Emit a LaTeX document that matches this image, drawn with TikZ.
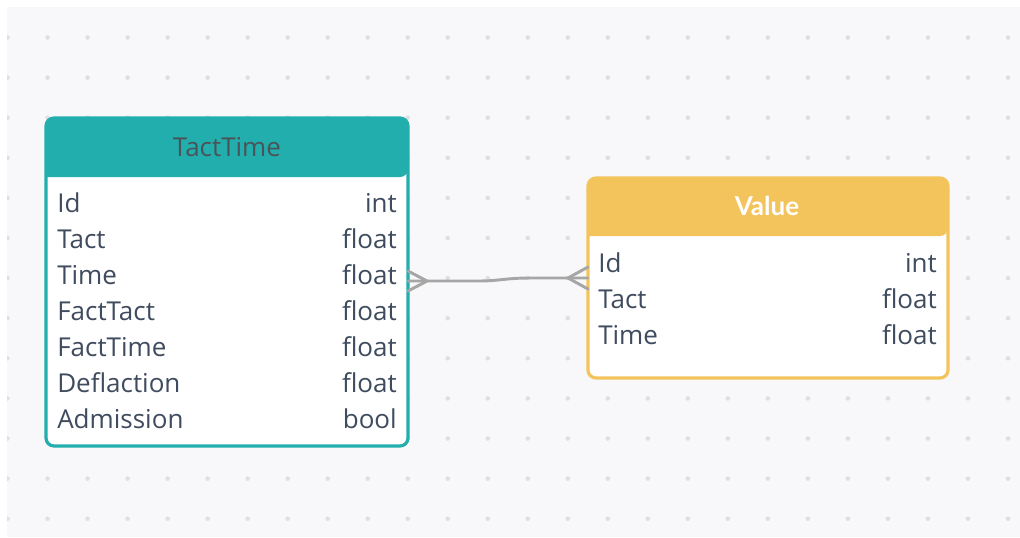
\documentclass[tikz,border=0pt]{standalone}
\usepackage{fontspec}
\setmainfont{Open Sans}
\newfontfamily\latofont{Lato}
\usetikzlibrary{calc}

\definecolor{canvasbg}{HTML}{F8F8FA}
\definecolor{griddot}{HTML}{DEDEE3}
\definecolor{tealhead}{HTML}{22AEAD}
\definecolor{yellowhead}{HTML}{F3C45B}
\definecolor{headtext}{HTML}{4A5458}
\definecolor{rowtext}{HTML}{3F4B5E}
\definecolor{linkgray}{HTML}{A6A6A6}

\tikzset{
  tablebox/.style={rectangle, inner sep=0pt, outer sep=0pt, anchor=north west},
  boxedge/.style={line width=2.4pt, rounded corners=6pt},
  titletext/.style={font=\fontsize{19.5}{22}\selectfont, anchor=base, inner sep=0pt},
  fieldname/.style={font=\fontsize{19.5}{22}\selectfont, text=rowtext, anchor=base west, inner sep=0pt},
  fieldtype/.style={font=\fontsize{19.5}{22}\selectfont, text=rowtext, anchor=base east, inner sep=0pt},
  relation/.style={draw=linkgray, line width=2.2pt, line join=round, line cap=round},
}

\begin{document}
\begin{tikzpicture}[x=0.75pt, y=-0.75pt]
\useasboundingbox (0,0) rectangle (1020,537);

% dotted canvas
\fill[canvasbg] (7,7) rectangle (1020,537);
\begin{scope}
  \clip (7,7) rectangle (1020,537);
  \foreach \i in {0,...,25}
    \foreach \j in {0,...,12}
      \fill[griddot] (7.5+40.02*\i, 37.5+40.1*\j) circle[radius=1.7pt];
\end{scope}

% ---------- TactTime table ----------
\node[tablebox, minimum width=271.5pt, minimum height=246pt] (tact) at (46,118) {};
\fill[white, rounded corners=6pt] (tact.north west) rectangle (tact.south east);
\fill[tealhead] (46,177) [rounded corners=6pt] |- (227,118) -| (408,177) [sharp corners] -- cycle;
\draw[boxedge, tealhead] (tact.north west) rectangle (tact.south east);
\node[titletext, text=headtext] (tact-title) at (227,156) {TactTime};
\foreach \n/\t [count=\i] in {Id/int, Tact/float, Time/float, FactTact/float,
    FactTime/float, Deflaction/float, Admission/bool} {
  \node[fieldname] (tact-name\i) at (57,{212+36*(\i-1)}) {\n};
  \node[fieldtype] (tact-type\i) at (397,{212+36*(\i-1)}) {\t};
}

% ---------- Value table ----------
\node[tablebox, minimum width=270pt, minimum height=150pt] (value) at (588,178) {};
\fill[white, rounded corners=6pt] (value.north west) rectangle (value.south east);
\fill[yellowhead] (588,236) [rounded corners=6pt] |- (768,178) -| (948,236) [sharp corners] -- cycle;
\draw[boxedge, yellowhead] (value.north west) rectangle (value.south east);
\node[titletext, text=white, font=\latofont\bfseries\fontsize{19.5}{22}\selectfont] (value-title) at (767,215) {Value};
\foreach \n/\t [count=\i] in {Id/int, Tact/float, Time/float} {
  \node[fieldname] (value-name\i) at (598,{272+36*(\i-1)}) {\n};
  \node[fieldtype] (value-type\i) at (937,{272+36*(\i-1)}) {\t};
}

% ---------- many-to-many relation ----------
\coordinate (lend) at ($(tact.east |- 0,281)$);
\coordinate (lfoot) at (427,281);
\coordinate (rend) at ($(value.west |- 0,278)$);
\coordinate (rfoot) at (568,278);

\draw[relation] ($(lend)+(0,-10)$) -- (lfoot) -- ($(lend)+(0,10)$);
\draw[relation] (lend) -- (lfoot) -- (478,281)
  .. controls (500,281) and (505,278) .. (530,278) -- (rfoot) -- (rend);
\draw[relation] ($(rend)+(0,-11)$) -- (rfoot) -- ($(rend)+(0,11)$);
\end{tikzpicture}
\end{document}
